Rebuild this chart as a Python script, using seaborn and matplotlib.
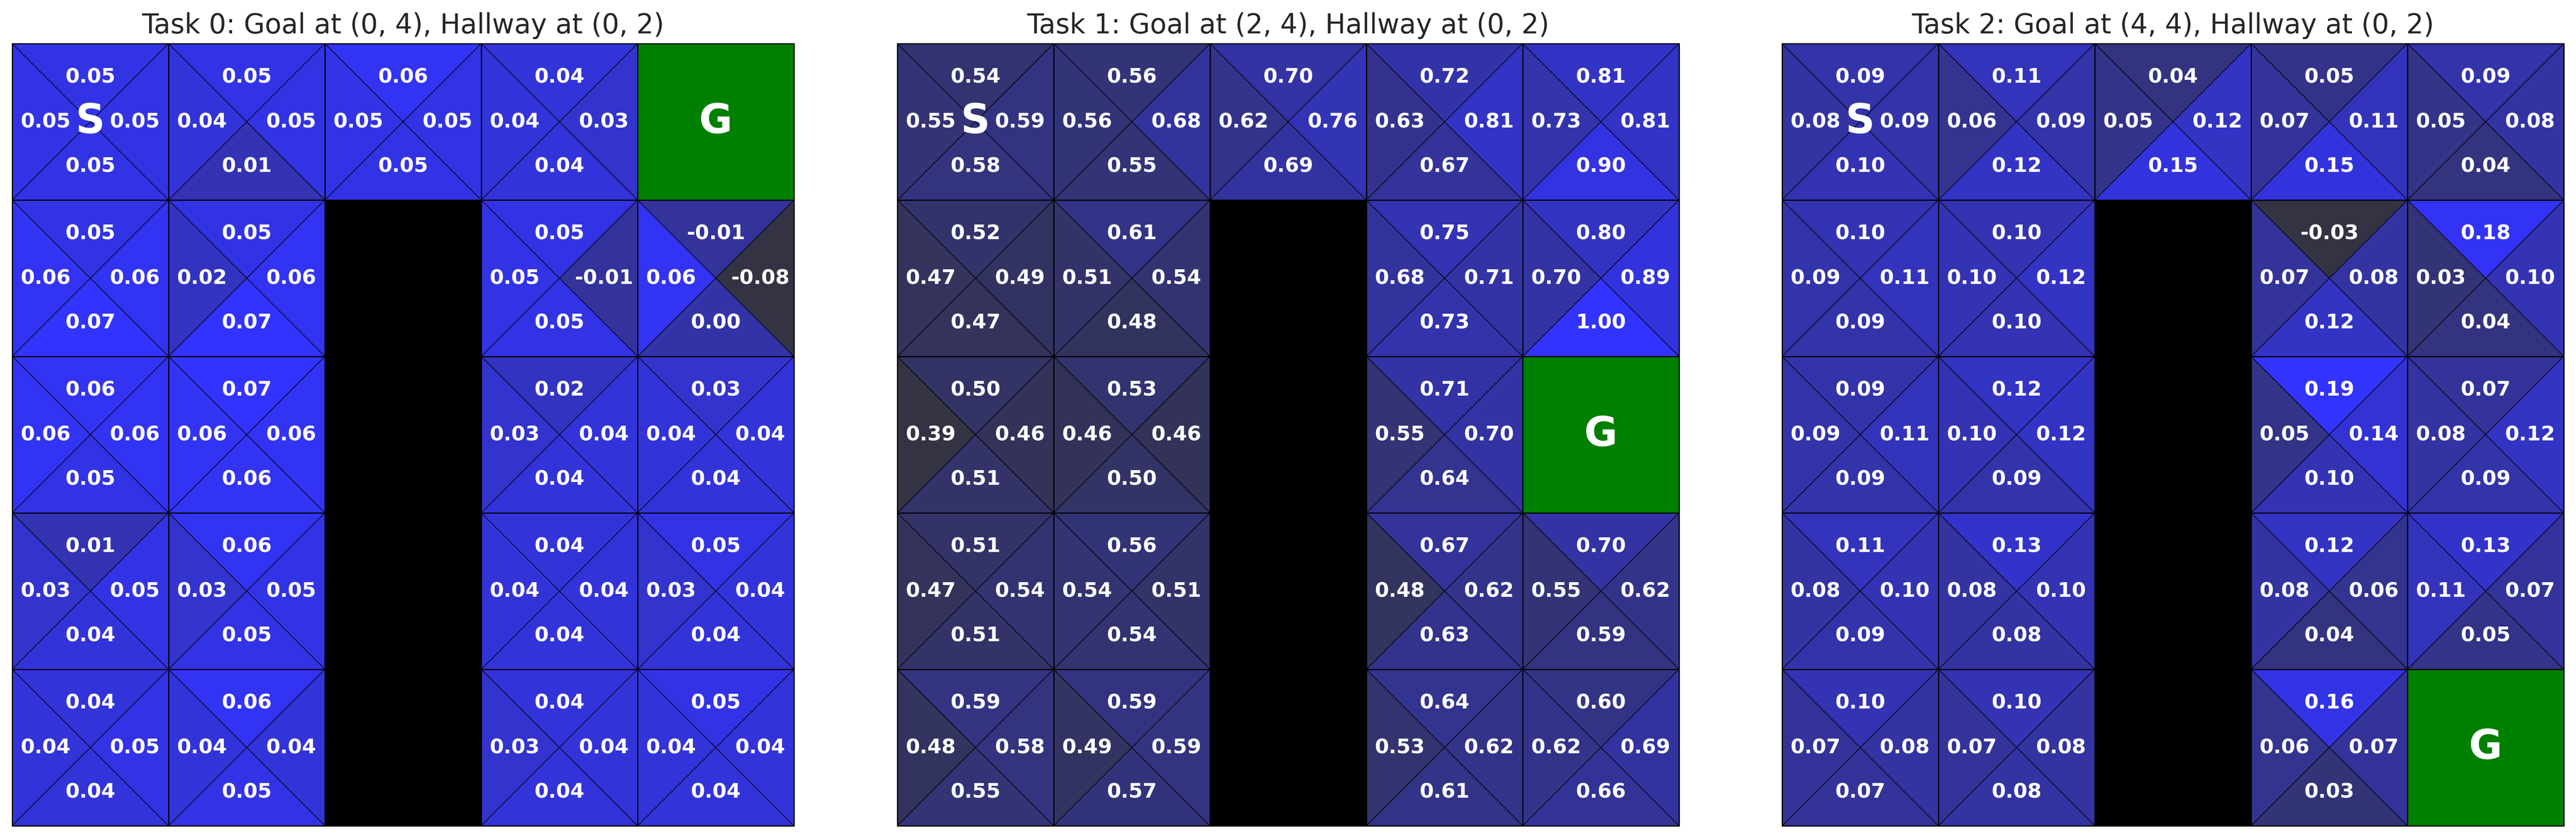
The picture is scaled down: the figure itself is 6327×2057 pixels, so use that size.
import numpy as np
import pandas as pd
import matplotlib
matplotlib.use("Agg")
import matplotlib.pyplot as plt
import matplotlib.tri as mtri
from matplotlib.colors import LinearSegmentedColormap, ListedColormap
import seaborn as sns

sns.set_theme(style="white")
plt.rcParams['font.family'] = ['DejaVu Sans']

N = np.nan
titles = ["Task 0: Goal at (0, 4), Hallway at (0, 2)",
          "Task 1: Goal at (2, 4), Hallway at (0, 2)",
          "Task 2: Goal at (4, 4), Hallway at (0, 2)"]
goals = [(0, 4), (2, 4), (4, 4)]
walls = [(1, 2), (2, 2), (3, 2), (4, 2)]
start = (0, 0)

# ---- Task 0 Q-values (rows top->bottom, cols left->right) ----
t0_up = [[0.05, 0.05, 0.06, 0.04, N],
         [0.05, 0.05, N, 0.05, -0.01],
         [0.06, 0.07, N, 0.02, 0.03],
         [0.01, 0.06, N, 0.04, 0.05],
         [0.04, 0.06, N, 0.04, 0.05]]
t0_left = [[0.05, 0.04, 0.05, 0.04, N],
           [0.06, 0.02, N, 0.05, 0.06],
           [0.06, 0.06, N, 0.03, 0.04],
           [0.03, 0.03, N, 0.04, 0.03],
           [0.04, 0.04, N, 0.03, 0.04]]
t0_right = [[0.05, 0.05, 0.05, 0.03, N],
            [0.06, 0.06, N, -0.01, -0.08],
            [0.06, 0.06, N, 0.04, 0.04],
            [0.05, 0.05, N, 0.04, 0.04],
            [0.05, 0.04, N, 0.04, 0.04]]
t0_down = [[0.05, 0.01, 0.05, 0.04, N],
           [0.07, 0.07, N, 0.05, 0.00],
           [0.05, 0.06, N, 0.04, 0.04],
           [0.04, 0.05, N, 0.04, 0.04],
           [0.04, 0.05, N, 0.04, 0.04]]

# ---- Task 1 ----
t1_up = [[0.54, 0.56, 0.70, 0.72, 0.81],
         [0.52, 0.61, N, 0.75, 0.80],
         [0.50, 0.53, N, 0.71, N],
         [0.51, 0.56, N, 0.67, 0.70],
         [0.59, 0.59, N, 0.64, 0.60]]
t1_left = [[0.55, 0.56, 0.62, 0.63, 0.73],
           [0.47, 0.51, N, 0.68, 0.70],
           [0.39, 0.46, N, 0.55, N],
           [0.47, 0.54, N, 0.48, 0.55],
           [0.48, 0.49, N, 0.53, 0.62]]
t1_right = [[0.59, 0.68, 0.76, 0.81, 0.81],
            [0.49, 0.54, N, 0.71, 0.89],
            [0.46, 0.46, N, 0.70, N],
            [0.54, 0.51, N, 0.62, 0.62],
            [0.58, 0.59, N, 0.62, 0.69]]
t1_down = [[0.58, 0.55, 0.69, 0.67, 0.90],
           [0.47, 0.48, N, 0.73, 1.00],
           [0.51, 0.50, N, 0.64, N],
           [0.51, 0.54, N, 0.63, 0.59],
           [0.55, 0.57, N, 0.61, 0.66]]

# ---- Task 2 ----
t2_up = [[0.09, 0.11, 0.04, 0.05, 0.09],
         [0.10, 0.10, N, -0.03, 0.18],
         [0.09, 0.12, N, 0.19, 0.07],
         [0.11, 0.13, N, 0.12, 0.13],
         [0.10, 0.10, N, 0.16, N]]
t2_left = [[0.08, 0.06, 0.05, 0.07, 0.05],
           [0.09, 0.10, N, 0.07, 0.03],
           [0.09, 0.10, N, 0.05, 0.08],
           [0.08, 0.08, N, 0.08, 0.11],
           [0.07, 0.07, N, 0.06, N]]
t2_right = [[0.09, 0.09, 0.12, 0.11, 0.08],
            [0.11, 0.12, N, 0.08, 0.10],
            [0.11, 0.12, N, 0.14, 0.12],
            [0.10, 0.10, N, 0.06, 0.07],
            [0.08, 0.08, N, 0.07, N]]
t2_down = [[0.10, 0.12, 0.15, 0.15, 0.04],
           [0.09, 0.10, N, 0.12, 0.04],
           [0.09, 0.09, N, 0.10, 0.09],
           [0.09, 0.08, N, 0.04, 0.05],
           [0.07, 0.08, N, 0.03, N]]

tasks = [(t0_up, t0_left, t0_right, t0_down),
         (t1_up, t1_left, t1_right, t1_down),
         (t2_up, t2_left, t2_right, t2_down)]

cmap = LinearSegmentedColormap.from_list("qmap", ["#333344", "#3333ff"])
bg_cmap = ListedColormap(["black", "green"])

W, H = 6327, 2057
fig = plt.figure(figsize=(W / 300, H / 300), dpi=300)
lefts = [30, 2204, 4377]
size = 1920
bottom = (H - 2027) / H

off = 0.285
for k, (up, left, right, down) in enumerate(tasks):
    ax = fig.add_axes([lefts[k] / W, bottom, size / W, size / H])
    # background layer: walls and goal
    layout = np.zeros((5, 5))
    for (r, c) in walls:
        layout[r, c] = 1
    gr, gc = goals[k]
    layout[gr, gc] = 2
    df = pd.DataFrame(layout)
    sns.heatmap(df, mask=(df == 0), cmap=bg_cmap, vmin=0.5, vmax=2.5, cbar=False,
                ax=ax, square=True, xticklabels=False, yticklabels=False,
                linewidths=0)

    U = np.array(up, float); L = np.array(left, float)
    R = np.array(right, float); D = np.array(down, float)
    vals_all = np.concatenate([U[~np.isnan(U)], L[~np.isnan(L)], R[~np.isnan(R)], D[~np.isnan(D)]])
    vmin, vmax = vals_all.min(), vals_all.max()

    xs, ys, tris, fcs = [], [], [], []
    texts = []
    for r in range(5):
        for c in range(5):
            if np.isnan(U[r, c]):
                continue
            base = len(xs)
            pts = [(c, r), (c + 1, r), (c + 1, r + 1), (c, r + 1), (c + 0.5, r + 0.5)]
            for (px, py) in pts:
                xs.append(px); ys.append(py)
            tl, tr, br, bl, ce = range(base, base + 5)
            tris += [[tl, tr, ce], [tl, bl, ce], [tr, br, ce], [bl, br, ce]]
            fcs += [U[r, c], L[r, c], R[r, c], D[r, c]]
            cx, cy = c + 0.5, r + 0.5
            texts += [(cx, cy - off, U[r, c]), (cx - off, cy, L[r, c]),
                      (cx + off, cy, R[r, c]), (cx, cy + off, D[r, c])]
    tri = mtri.Triangulation(np.array(xs), np.array(ys), np.array(tris))
    ax.tripcolor(tri, facecolors=np.array(fcs), cmap=cmap, vmin=vmin, vmax=vmax,
                 edgecolors="black", linewidth=0.35)

    for (tx, ty, v) in texts:
        ax.text(tx, ty, f"{v:.2f}", ha="center", va="center", color="white",
                fontsize=12, fontweight="bold")

    # cell borders
    for i in range(6):
        ax.plot([0, 5], [i, i], color="black", lw=0.7, clip_on=False, zorder=5)
        ax.plot([i, i], [0, 5], color="black", lw=0.7, clip_on=False, zorder=5)

    ax.text(start[1] + 0.5, start[0] + 0.5, "S", ha="center", va="center",
            color="white", fontsize=24, fontweight="bold", zorder=6)
    ax.text(gc + 0.5, gr + 0.5, "G", ha="center", va="center",
            color="white", fontsize=24, fontweight="bold", zorder=6)

    ax.set_xlim(0, 5)
    ax.set_ylim(5, 0)
    ax.set_xticks([]); ax.set_yticks([])
    for s in ax.spines.values():
        s.set_visible(False)
    ax.set_title(titles[k], fontsize=16, pad=6)

fig.savefig("out.png", dpi=300, facecolor="white")
